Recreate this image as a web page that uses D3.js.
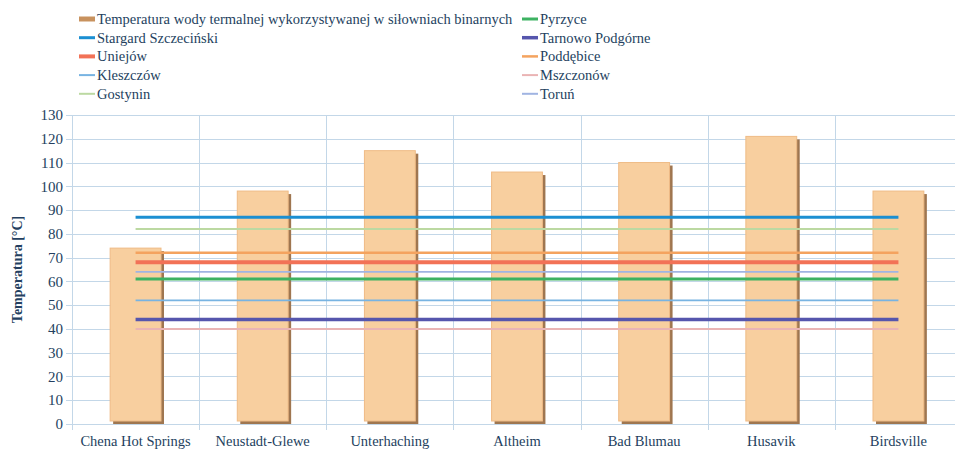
<!DOCTYPE html>
<html>
<head>
<meta charset="utf-8">
<script src="https://cdn.jsdelivr.net/npm/d3@7"></script>
<style>
  body { margin: 0; background: #fff; }
  svg { display: block; font-family: "Liberation Serif", serif; }
</style>
</head>
<body>
<svg></svg>
<script>
const width = 955;
const height = 455;

// data
const categories = ['Chena Hot Springs', 'Neustadt-Glewe', 'Unterhaching', 'Altheim', 'Bad Blumau', 'Husavik', 'Birdsville'];
const barValues = [74, 98, 115, 106, 110, 121, 98];
const barName = 'Temperatura wody termalnej wykorzystywanej w siłowniach binarnych';

const lineNames = ['Stargard Szczeciński', 'Uniejów', 'Kleszczów', 'Gostynin', 'Pyrzyce', 'Tarnowo Podgórne', 'Poddębice', 'Mszczonów', 'Toruń'];
const lineValues = [87, 68, 52, 82, 61, 44, 72, 40, 64];
const lineColors = ['#1b8fd2', '#f27257', '#78b4e2', '#bcd9a2', '#3db262', '#5656ad', '#f4a35f', '#eab4b4', '#a0b4e2'];
const lineWidths = [3, 4, 1.6, 2, 3, 3.5, 2.5, 2, 1.6];

const yTicks = d3.range(0, 131, 10);

const margin = { top: 115, right: -7, bottom: 31, left: 72 };

const svg = d3.select('svg')
    .attr('width', width)
    .attr('height', height);

const x = d3.scaleBand()
    .domain(categories)
    .range([margin.left, width - margin.right])
    .paddingInner(0)
    .paddingOuter(0);

const y = d3.scaleLinear()
    .domain([0, 130])
    .range([height - margin.bottom, margin.top]);

const textColor = '#243f60';
const gridColor = '#c3d7e8';

// horizontal grid
svg.append('g')
    .selectAll('line')
    .data(yTicks)
    .enter()
    .append('line')
    .attr('x1', margin.left - 6)
    .attr('x2', width)
    .attr('y1', d => Math.round(y(d)) + 0.5)
    .attr('y2', d => Math.round(y(d)) + 0.5)
    .attr('stroke', gridColor)
    .attr('stroke-width', 1);

// vertical grid at category boundaries
svg.append('g')
    .selectAll('line')
    .data(categories)
    .enter()
    .append('line')
    .attr('x1', d => Math.round(x(d)) + 0.5)
    .attr('x2', d => Math.round(x(d)) + 0.5)
    .attr('y1', y(130))
    .attr('y2', y(0) + 6)
    .attr('stroke', gridColor)
    .attr('stroke-width', 1);

// y tick labels
svg.append('g')
    .selectAll('text')
    .data(yTicks)
    .enter()
    .append('text')
    .attr('x', margin.left - 9)
    .attr('y', d => y(d))
    .attr('dy', '0.35em')
    .attr('text-anchor', 'end')
    .attr('font-size', 15)
    .attr('fill', textColor)
    .text(d => d);

// y axis title
svg.append('text')
    .attr('transform', `translate(22, ${y(65)}) rotate(-90)`)
    .attr('text-anchor', 'middle')
    .attr('font-size', 14)
    .attr('font-weight', 'bold')
    .attr('fill', textColor)
    .text('Temperatura [°C]');

// x labels
svg.append('g')
    .selectAll('text')
    .data(categories)
    .enter()
    .append('text')
    .attr('x', d => x(d) + x.bandwidth() / 2)
    .attr('y', height - 9)
    .attr('text-anchor', 'middle')
    .attr('font-size', 14.5)
    .attr('fill', textColor)
    .text(d => d);

// bars with a little shadow on the right and bottom
const barW = x.bandwidth() * 0.4;
const bars = svg.append('g');
bars.selectAll('rect.shadow')
    .data(barValues)
    .enter()
    .append('rect')
    .attr('class', 'shadow')
    .attr('x', (d, i) => x(categories[i]) + x.bandwidth() / 2 - barW / 2 + 3)
    .attr('y', d => y(d) + 3)
    .attr('width', barW)
    .attr('height', d => y(0) - y(d) - 3)
    .attr('fill', '#9f7650');
bars.selectAll('rect.bar')
    .data(barValues)
    .enter()
    .append('rect')
    .attr('class', 'bar')
    .attr('x', (d, i) => x(categories[i]) + x.bandwidth() / 2 - barW / 2)
    .attr('y', d => y(d))
    .attr('width', barW)
    .attr('height', d => y(0) - y(d) - 3)
    .attr('fill', '#f8cf9f')
    .attr('stroke', '#efbb86')
    .attr('stroke-width', 1);

// reference lines from first to last category centre
const xFirst = x(categories[0]) + x.bandwidth() / 2;
const xLast = x(categories[categories.length - 1]) + x.bandwidth() / 2;
svg.append('g')
    .selectAll('line')
    .data(lineValues)
    .enter()
    .append('line')
    .attr('x1', xFirst)
    .attr('x2', xLast)
    .attr('y1', d => y(d))
    .attr('y2', d => y(d))
    .attr('stroke', (d, i) => lineColors[i])
    .attr('stroke-width', (d, i) => lineWidths[i]);

// legend in two columns
const legendItems = [{ name: barName, color: '#c8925e', w: 5 }]
    .concat(lineNames.map((n, i) => ({ name: n, color: lineColors[i], w: Math.max(2, lineWidths[i]) })));
const rowH = 18.7;
const legend = svg.append('g');
const item = legend.selectAll('g')
    .data(legendItems)
    .enter()
    .append('g')
    .attr('transform', (d, i) => {
        const col = i < 5 ? 0 : 1;
        const row = i % 5;
        return `translate(${col === 0 ? 79 : 522}, ${19 + row * rowH})`;
    });
item.append('line')
    .attr('x1', 0)
    .attr('x2', 16)
    .attr('y1', 0)
    .attr('y2', 0)
    .attr('stroke', d => d.color)
    .attr('stroke-width', d => d.w);
item.append('text')
    .attr('x', 18)
    .attr('dy', '0.35em')
    .attr('font-size', 14.5)
    .attr('fill', textColor)
    .text(d => d.name);
</script>
</body>
</html>
